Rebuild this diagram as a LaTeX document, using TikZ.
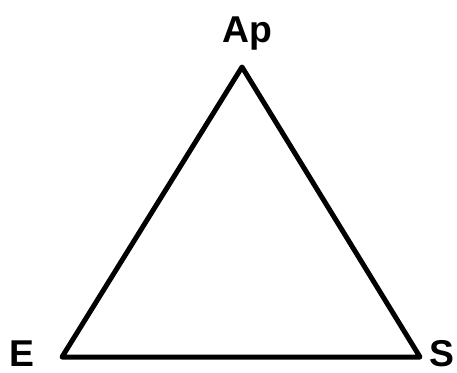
\documentclass[tikz,border=0pt]{standalone}
\usepackage{fontspec}
\setmainfont{Liberation Sans}
\usepackage{tikz}
\usetikzlibrary{positioning}

\begin{document}
\begin{tikzpicture}[
      x=0.75pt, y=-0.75pt,
      lbl/.style={font=\bfseries\fontsize{28}{34}\selectfont, inner sep=0pt},
      side/.style={line width=3.75pt, line join=round, line cap=round}
    ]
    \useasboundingbox (0,0) rectangle (457,372);
    % corners of the triangle
    \coordinate (ap) at (242,67);
    \coordinate (e)  at (62,357);
    \coordinate (s)  at (420,357);

    \node[lbl, anchor=base] (aplbl) at (247,42) {Ap};
    \node[lbl, anchor=base west] (elbl) at (9,366) {E};
    \node[lbl, anchor=base west] (slbl) at (429,366) {S};

    \draw[side] (ap) -- (e) -- (s) -- cycle;
  \end{tikzpicture}
\end{document}
